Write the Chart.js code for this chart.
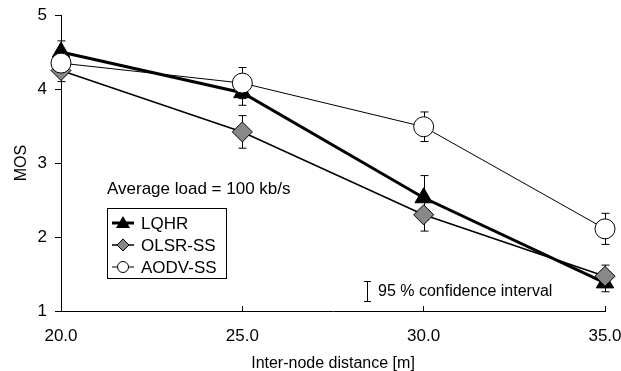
<!DOCTYPE html>
<html>
<head>
<meta charset="utf-8">
<script src="https://cdn.jsdelivr.net/npm/chart.js@4"></script>
<style>
  body { margin: 0; background: #fff; }
  #wrap { width: 621px; height: 371px; }
</style>
</head>
<body>
<div id="wrap"><canvas id="graph"></canvas></div>
<script>
const distances = [20, 25, 30, 35];
const lqhr = [4.50, 3.95, 2.53, 1.38];
const lqhrErr = [0.15, 0.17, 0.30, 0.12];
const olsr = [4.25, 3.42, 2.30, 1.47];
const olsrErr = [0.15, 0.22, 0.22, 0.15];
const aodv = [4.35, 4.08, 3.49, 2.11];
const aodvErr = [0.12, 0.21, 0.20, 0.21];
const yTicks = [1, 2, 3, 4, 5];

const font = "Liberation Sans, Arial, sans-serif";

const pts = (ys) => distances.map((x, i) => ({ x: x, y: ys[i] }));

const errs = [lqhrErr, olsrErr, aodvErr];

// error bars, drawn behind the markers
const errorBars = {
  id: 'errorBars',
  beforeDatasetsDraw(chart) {
    const ctx = chart.ctx;
    const xs = chart.scales.x, ys = chart.scales.y;
    ctx.save();
    ctx.strokeStyle = '#000';
    ctx.lineWidth = 1;
    chart.data.datasets.forEach((ds) => {
      const e = errs[ds.errIdx];
      ds.data.forEach((p, i) => {
        const px = Math.round(xs.getPixelForValue(p.x)) + 0.5;
        const top = ys.getPixelForValue(p.y + e[i]);
        const bot = ys.getPixelForValue(p.y - e[i]);
        ctx.beginPath();
        ctx.moveTo(px, top); ctx.lineTo(px, bot);
        ctx.moveTo(px - 4, top); ctx.lineTo(px + 4, top);
        ctx.moveTo(px - 4, bot); ctx.lineTo(px + 4, bot);
        ctx.stroke();
      });
    });
    ctx.restore();
  }
};

// legend box and notes inside the plot
const notes = {
  id: 'notes',
  afterDraw(chart) {
    const ctx = chart.ctx;
    ctx.save();
    ctx.fillStyle = '#000';
    ctx.font = '17px ' + font;
    ctx.textBaseline = 'middle';
    ctx.fillText('Average load = 100 kb/s', 107, 189);

    // legend box
    ctx.strokeStyle = '#000';
    ctx.lineWidth = 1;
    ctx.strokeRect(107.5, 208.5, 119, 70);
    const rows = [
      { name: 'LQHR', y: 223, lw: 3, kind: 'tri' },
      { name: 'OLSR-SS', y: 245, lw: 1.5, kind: 'dia' },
      { name: 'AODV-SS', y: 267, lw: 1, kind: 'circ' }
    ];
    rows.forEach(r => {
      ctx.beginPath();
      ctx.lineWidth = r.lw;
      ctx.strokeStyle = '#000';
      ctx.moveTo(112, r.y); ctx.lineTo(134, r.y);
      ctx.stroke();
      ctx.lineWidth = 1;
      ctx.beginPath();
      const cx = 123;
      if (r.kind === 'tri') {
        ctx.moveTo(cx, r.y - 7); ctx.lineTo(cx + 7, r.y + 5); ctx.lineTo(cx - 7, r.y + 5);
        ctx.closePath();
        ctx.fillStyle = '#000'; ctx.fill();
      } else if (r.kind === 'dia') {
        ctx.moveTo(cx, r.y - 6); ctx.lineTo(cx + 6, r.y); ctx.lineTo(cx, r.y + 6); ctx.lineTo(cx - 6, r.y);
        ctx.closePath();
        ctx.fillStyle = '#888'; ctx.fill(); ctx.stroke();
      } else {
        ctx.arc(cx, r.y, 5.5, 0, Math.PI * 2);
        ctx.fillStyle = '#fff'; ctx.fill(); ctx.stroke();
      }
      ctx.fillStyle = '#000';
      ctx.fillText(r.name, 141, r.y + 1);
    });

    // confidence interval note
    ctx.beginPath();
    ctx.lineWidth = 1;
    ctx.moveTo(367.5, 281); ctx.lineTo(367.5, 302);
    ctx.moveTo(364, 281.5); ctx.lineTo(371, 281.5);
    ctx.moveTo(364, 301.5); ctx.lineTo(371, 301.5);
    ctx.stroke();
    ctx.font = '16px ' + font;
    ctx.fillText('95 % confidence interval', 378, 292);
    ctx.restore();
  }
};

const data = {
  datasets: [
    {
      label: 'AODV-SS', data: pts(aodv), errIdx: 2, order: 0,
      borderColor: '#000', borderWidth: 1,
      pointStyle: 'circle', pointRadius: 10, pointBackgroundColor: '#fff',
      pointBorderColor: '#000', pointBorderWidth: 1
    },
    {
      label: 'OLSR-SS', data: pts(olsr), errIdx: 1, order: 1,
      borderColor: '#000', borderWidth: 1.6,
      pointStyle: 'rectRot', pointRadius: 10, pointBackgroundColor: '#888',
      pointBorderColor: '#000', pointBorderWidth: 1
    },
    {
      label: 'LQHR', data: pts(lqhr), errIdx: 0, order: 2,
      borderColor: '#000', borderWidth: 3,
      pointStyle: 'triangle', pointRadius: 10, pointBackgroundColor: '#000',
      pointBorderColor: '#000', pointBorderWidth: 1
    }
  ]
};

const config = {
  type: 'line',
  data: data,
  options: {
    responsive: true,
    maintainAspectRatio: false,
    animation: false,
    clip: false,
    layout: { padding: { top: 15, right: 16, left: 0, bottom: 0 } },
    plugins: { legend: { display: false }, tooltip: { enabled: false } },
    elements: { line: { tension: 0 } },
    scales: {
      x: {
        type: 'linear', min: 20, max: 35,
        afterBuildTicks: (s) => { s.ticks = distances.map(v => ({ value: v })); },
        ticks: {
          color: '#000', font: { family: font, size: 17 }, padding: 20,
          callback: (v) => v.toFixed(1)
        },
        grid: { drawOnChartArea: false, color: '#000', tickLength: -5, drawTicks: true },
        border: { color: '#000', width: 1 },
        title: { display: true, text: 'Inter-node distance [m]', color: '#000', font: { family: font, size: 16 }, padding: { top: 0, bottom: -2 } },
        afterFit: (s) => { s.height = 60; s.paddingLeft = 0; s.paddingRight = 0; }
      },
      y: {
        min: 1, max: 5,
        afterBuildTicks: (s) => { s.ticks = yTicks.map(v => ({ value: v })); },
        ticks: { color: '#000', font: { family: font, size: 17 }, padding: 8 },
        grid: { drawOnChartArea: false, color: '#000', tickLength: 6 },
        border: { color: '#000', width: 1 },
        title: { display: true, text: 'MOS', color: '#000', font: { family: font, size: 16 }, padding: { top: 12, bottom: 0 } },
        afterFit: (s) => { s.width = 61; s.paddingTop = 0; s.paddingBottom = 0; }
      }
    }
  },
  plugins: [errorBars, notes]
};

const cont = document.querySelector('#graph');
const myChart = new Chart(cont, config);
</script>
</body>
</html>
